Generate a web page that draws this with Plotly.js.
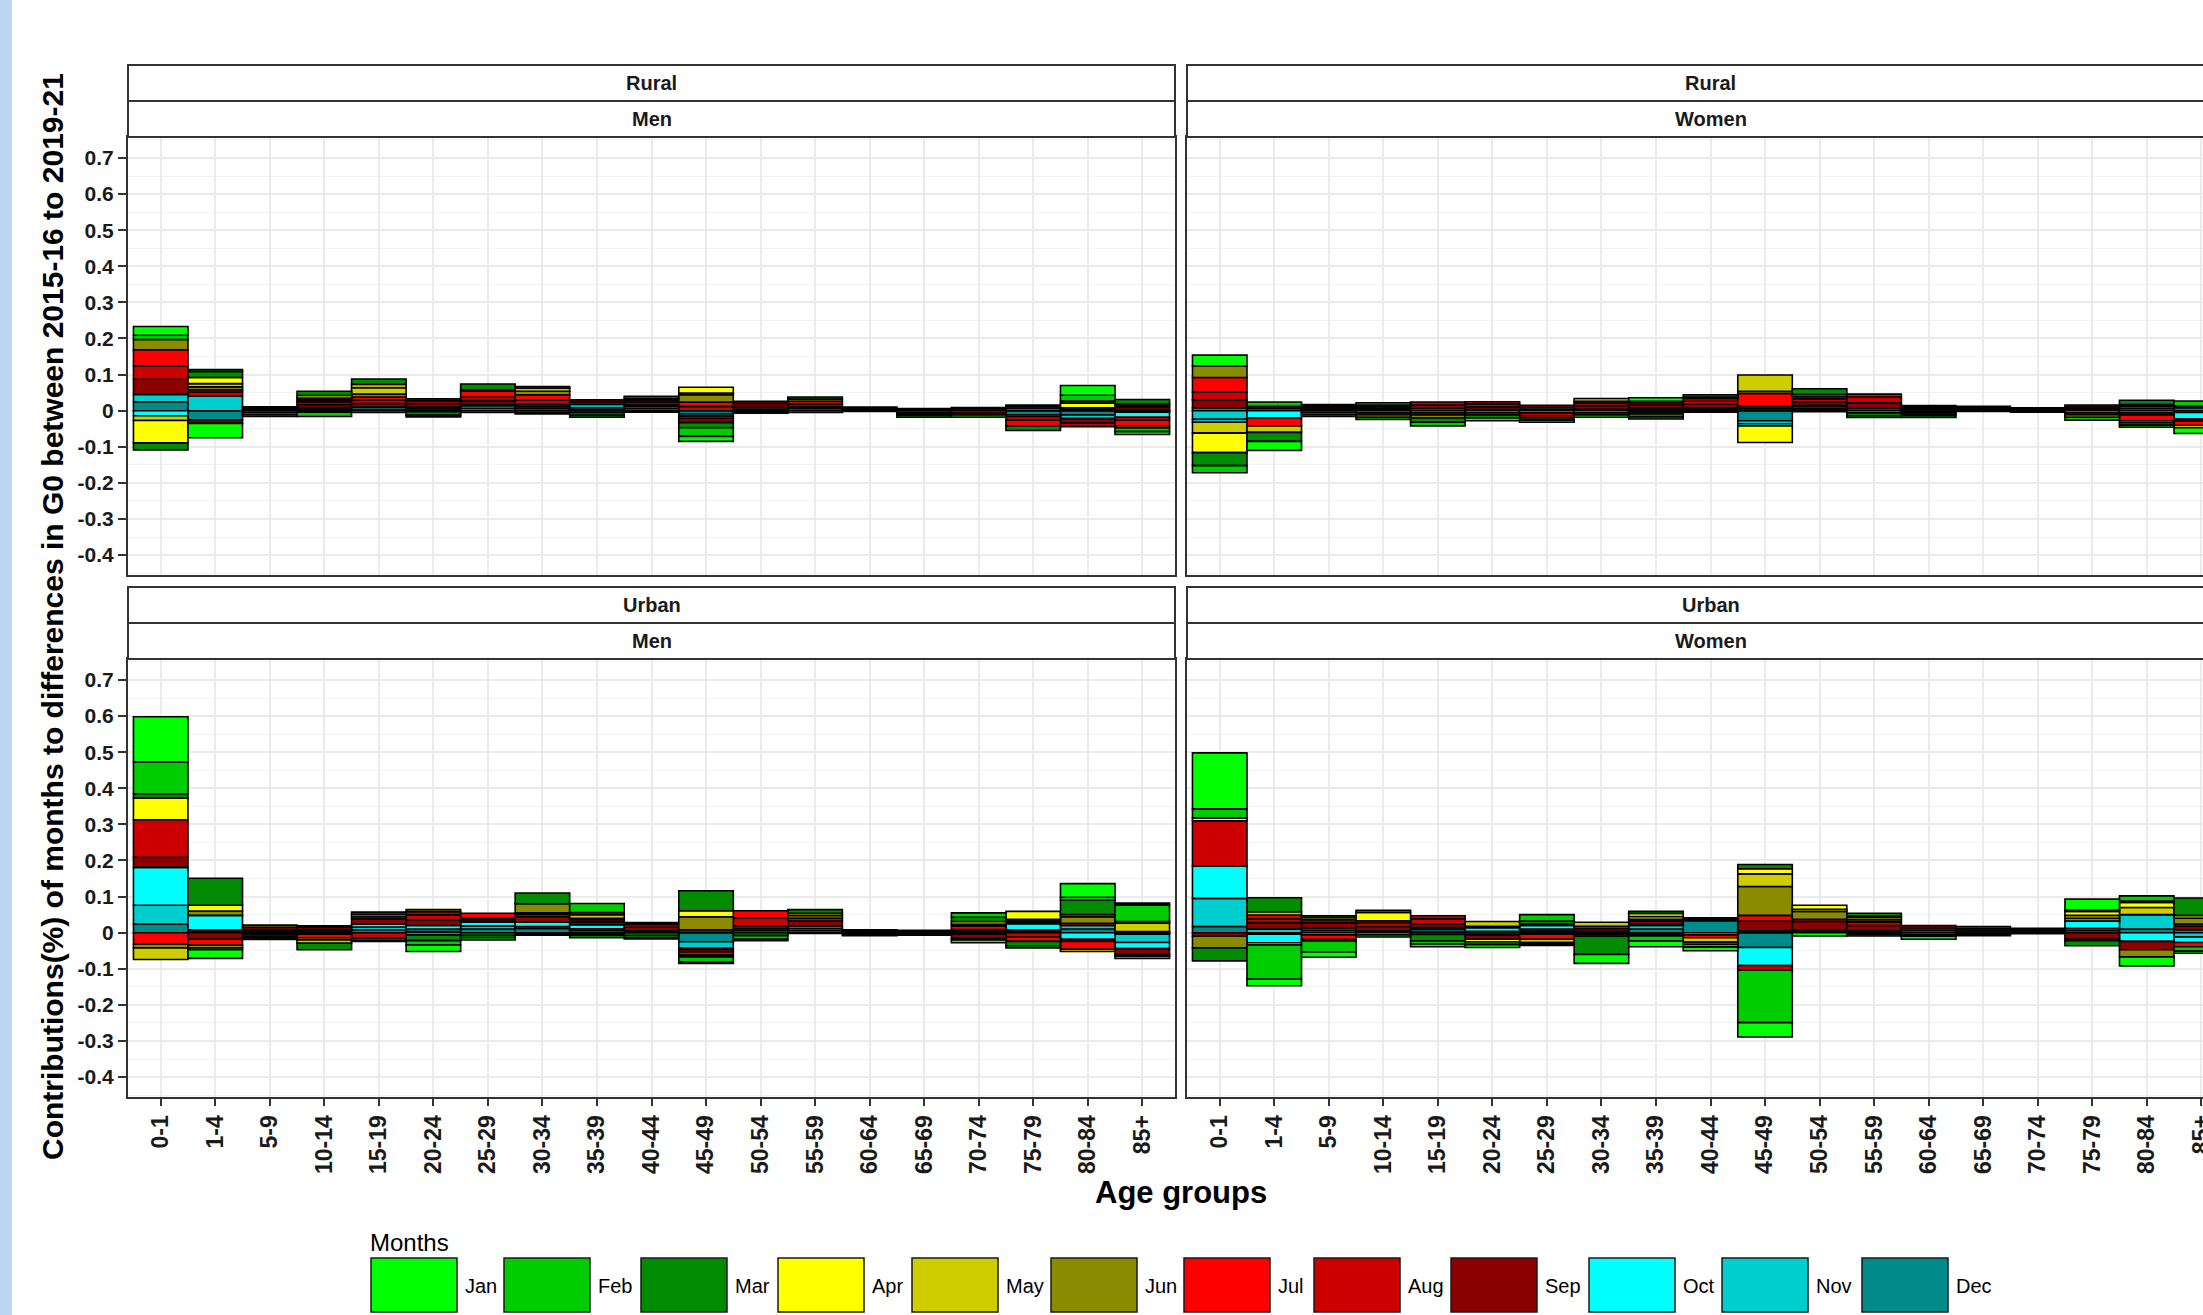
<!DOCTYPE html>
<html><head><meta charset="utf-8">
<script src="https://cdn.plot.ly/plotly-3.0.1.min.js"></script>
<style>html,body{margin:0;padding:0;overflow:hidden;background:#fff;} #chart{width:2240px;height:1315px;}</style>
</head><body><div id="chart"></div>
<script>
// ---------- DATA ----------
const ageGroups = ['0-1','1-4','5-9','10-14','15-19','20-24','25-29','30-34','35-39','40-44','45-49','50-54','55-59','60-64','65-69','70-74','75-79','80-84','85+'];
const months = ['Jan','Feb','Mar','Apr','May','Jun','Jul','Aug','Sep','Oct','Nov','Dec'];
const monthColors = ['#00FF00','#00CD00','#008B00','#FFFF00','#CDCD00','#8B8B00','#FF0000','#CD0000','#8B0000','#00FFFF','#00CDCD','#008B8B'];
const yTickVals = [-0.4,-0.3,-0.2,-0.1,0,0.1,0.2,0.3,0.4,0.5,0.6,0.7];
const yTickText = ['-0.4','-0.3','-0.2','-0.1','0','0.1','0.2','0.3','0.4','0.5','0.6','0.7'];

// rows = age groups, columns = Jan..Dec
const ruralMen = [
  [ .024, .012,-.020,-.062,-.013, .028, .045, .037, .042,-.014, .020, .025],
  [-.040, .005, .017, .017, .009, .008, .006, .012,-.010, 0   , .040,-.025],
  [-.005, 0   ,-.006, 0   , 0   , 0   , .003, 0   , .004,-.005, 0   , .004],
  [ 0   ,-.012, .012, .007, .005, 0   , .005, .008, .008,-.004, .004, .005],
  [ 0   , 0   , .015, .009, .018, .008, .008, .010, .010,-.005, .006, .004],
  [ 0   ,-.004,-.010, 0   , 0   , 0   , .005, .008, .010,-.003, .005, .005],
  [-.005, 0   , .016, 0   , 0   , .004, .016, .010, .010, .004, .007, .007],
  [ 0   ,-.004, .005, 0   , .008, .010, .015, .012, .006,-.005, .005, .006],
  [-.005, 0   ,-.008, 0   , 0   ,-.005, 0   , .005, .008, .008, .005, .004],
  [-.004, 0   , .006, 0   , 0   , 0   , .004, .006, .008, .004, .006, .006],
  [-.014,-.024,-.014, .016, .005, .020, .012, .012,-.012,-.006,-.006,-.009],
  [-.003, 0   ,-.004, 0   , 0   , 0   , .005, .006, .006, 0   , .005, .004],
  [ 0   , 0   , .006, 0   , 0   , .006, 0   , .008, .008,-.005, .004, .006],
  [-.002, 0   , 0   , 0   , 0   , 0   , .003, .003, 0   , 0   , 0   , .004],
  [-.005, 0   ,-.004, 0   , 0   ,-.004, 0   , 0   , .003,-.005, 0   , .003],
  [ 0   ,-.006, 0   ,-.005, 0   , 0   ,-.007, .004, 0   , 0   , .005, 0   ],
  [ 0   , 0   ,-.013, 0   , 0   , .004,-.016,-.010, .006,-.005, .006,-.011],
  [ .027, .016, .006, .013, .004, .004, 0   ,-.010,-.012, 0   ,-.010,-.012],
  [-.008,-.010, .012,-.006, .004, .004,-.016,-.008, .008,-.014,-.004, .003]
];
const ruralWomen = [
  [ .030,-.020,-.036,-.054,-.030, .032, .040, .022, .022,-.008,-.024, .008],
  [-.025, .012,-.025, 0   ,-.018, 0   ,-.022, 0   , .006,-.020, 0   , .006],
  [-.005, 0   ,-.006, 0   , 0   , .004, 0   , .004, .005,-.005, 0   , .004],
  [-.006, .006, 0   ,-.006, 0   , 0   ,-.006, .005, .006, 0   ,-.006, .005],
  [ 0   ,-.010,-.012, 0   , 0   ,-.008,-.006, .008, .010, 0   ,-.006, .006],
  [-.008, 0   ,-.008, 0   , 0   ,-.006, .006, .008, .008,-.006, 0   , .003],
  [-.006,-.006, 0   , 0   , 0   , 0   ,-.006,-.008, .006,-.006, .005, .004],
  [-.006, 0   ,-.006, 0   , .008, 0   , .004, .008, .010,-.006, 0   , .004],
  [ .010,-.006,-.008, 0   , 0   , .004,-.005, .006, .008,-.004, .004, .004],
  [-.004, 0   , .006, 0   , 0   , .004, .008, .008, .010, 0   , .004, .004],
  [ 0   , 0   , 0   ,-.046, .045, .006, .036, .006, .006,-.006,-.008,-.028],
  [-.003, 0   , .016, 0   , .006, .006, 0   , .008, .010, .004, .006, .005],
  [-.005, 0   ,-.008, 0   , 0   , 0   , .008, .016, .016,-.006, 0   , .006],
  [ 0   , .004,-.006, 0   , 0   ,-.004, 0   , .005, .005,-.005, 0   ,-.004],
  [-.002, 0   , 0   , 0   , 0   , 0   , .004, 0   , .004, 0   , 0   , .004],
  [ 0   , 0   ,-.004, 0   , 0   , 0   , 0   , .004, 0   , 0   , .004, 0   ],
  [ 0   ,-.008, 0   ,-.006, 0   , 0   ,-.006, 0   , .006,-.006, .005, .005],
  [ 0   ,-.006, .012, 0   ,-.006,-.006,-.016,-.006, .005,-.006, .006, .006],
  [-.016, .014, 0   ,-.006, .005, 0   ,-.012,-.006, 0   ,-.018,-.005, .008]
];
const urbanMen = [
  [ .125, .088, .012, .060,-.032,-.010,-.032, .104, .028, .105, .052, .024],
  [-.024,-.005, .075, .016,-.007, .012,-.017, 0   ,-.018, .040, .004, .004],
  [-.004, 0   ,-.005, 0   , 0   , .006,-.006, 0   , .006,-.004, .004, .005],
  [ 0   , 0   ,-.018, 0   ,-.009,-.006,-.010, .004, .006,-.004, .004, .005],
  [-.003, 0   , .006, 0   ,-.006, .006, .006,-.015, .015, .008, .008, .008],
  [-.018,-.012,-.016,-.006, 0   , .006, .008, .015, .015, .010, .006, .004],
  [-.006,-.006,-.008, 0   , 0   , 0   , .014, .004, .006, .011, .009, .010],
  [-.003, 0   , .030,-.004, 0   , .025, .004, .006, .016, .012, .005, .012],
  [-.006, .025, .006,-.004, .010, .004,-.004, .006, .008, .011, .005, .006],
  [-.003,-.006,-.008, 0   , 0   , 0   , .005, .008, .010, 0   , 0   , .005],
  [-.004,-.014, .055, .017,-.005, .036,-.009,-.006, .008,-.004,-.018,-.025],
  [-.004,-.010,-.008, 0   , 0   , 0   , .020, .022, .008, 0   , .005, .006],
  [-.002, 0   , .010, 0   , .006, .008, 0   , .008, .014, .006, .006, .006],
  [-.004, 0   ,-.004, 0   , 0   , 0   , 0   , .004, .004, 0   , 0   , 0   ],
  [ 0   ,-.004, 0   , 0   , 0   ,-.003, .003, 0   , 0   , 0   , 0   , .004],
  [-.008, .012, .012,-.004, .008, .004, .010, .004,-.012,-.004, .005, 0   ],
  [ 0   ,-.006,-.012, .022, .004, .004,-.012,-.012, .004, .017, .004, .004],
  [ .038, .008, .040, .006,-.006, .018,-.022,-.006, .006,-.018, .010, .010],
  [ .005, .046, .005,-.006, .023, .003, 0   ,-.005,-.016,-.017,-.023,-.004]
];
const urbanWomen = [
  [ .155, .025,-.036, .008, 0   ,-.032, 0   , .125,-.010, .090, .078, .017],
  [-.018,-.095, .039,-.006, .009, 0   , .010, .011, .018,-.024, .010,-.004],
  [-.015,-.030, .005,-.004, 0   , .006,-.013, .008, .016,-.006, .006, .006],
  [-.006, 0   , .006, .023, 0   , 0   , .006, .010, .012,-.006, 0   , .005],
  [-.008,-.008,-.018, 0   , 0   ,-.005, .008, .015, .010, .004, .006, .004],
  [-.008, 0   ,-.008,-.007, .013, .004, 0   , 0   ,-.012, .010, .004,-.006],
  [-.004, .018, .008,-.004,-.009, .004,-.014, 0   ,-.004, .010, .005, .005],
  [-.025, 0   ,-.050, 0   , .011, .006, 0   ,-.006, .008,-.004, 0   , .004],
  [-.016,-.014, .006, .008, .008, .005,-.004,-.005, .008, .004, .010, .010],
  [-.010,-.008, .004,-.006,-.012, 0   ,-.008, 0   , .004,-.006, 0   , .033],
  [-.040,-.145, .012, .014, .035, .080, .016,-.013, .027,-.050, .005,-.041],
  [-.009, 0   , 0   , .011, .006, .022, .006, 0   , .023, 0   , .004, .004],
  [ 0   , 0   , .008, .004, .006, .006,-.005, .010, .015,-.004, 0   , .005],
  [-.008,-.004,-.006, 0   , 0   , 0   , 0   , .006, .008, 0   , 0   , .006],
  [-.004, 0   ,-.004, 0   , 0   , 0   , 0   , .006, .006, 0   , .005, 0   ],
  [ 0   ,-.003, 0   , 0   , 0   , 0   , .004, 0   , .004, 0   , 0   , .004],
  [ .030, .004,-.014, .011, .008, .008, 0   ,-.004,-.018, .020, .006, .006],
  [-.025, .014, .004, .014, .020,-.020, 0   , 0   ,-.023,-.024, .040, .010],
  [-.006,-.012, .048, 0   , .008, .016,-.012, .006, .010,-.015,-.012, .008]
];
const areaLabels = ['Rural','Rural','Urban','Urban'];
const sexLabels = ['Men','Women','Men','Women'];

// ---------- LAYOUT GEOMETRY (pixels) ----------
const W = 2240, H = 1315;
const FONT = 'Liberation Sans, Arial, Helvetica, sans-serif';
const colPx = [[128,1175],[1187,2234]];
const rowPx = [[137,575],[659,1097]];   // plot area top/bottom
const stripPx = [[65,101,137],[587,623,659]];
const px = v => v / W, py = v => 1 - v / H;

const panels = [
  {data: ruralMen,   col:0, row:0},
  {data: ruralWomen, col:1, row:0},
  {data: urbanMen,   col:0, row:1},
  {data: urbanWomen, col:1, row:1}
];

const traces = [];
panels.forEach((p, i) => {
  const xa = i === 0 ? 'x' : 'x' + (i + 1);
  const ya = i === 0 ? 'y' : 'y' + (i + 1);
  for (let m = months.length - 1; m >= 0; m--) {
    traces.push({
      type: 'bar', name: months[m], x: ageGroups,
      y: p.data.map(r => r[m] === 0 ? null : r[m]),
      xaxis: xa, yaxis: ya, showlegend: false,
      marker: {color: monthColors[m], line: {color: '#000000', width: 1.6}}
    });
  }
});

const layout = {
  width: W, height: H, margin: {l:0, r:0, t:0, b:0},
  paper_bgcolor: '#ffffff', plot_bgcolor: '#ffffff',
  barmode: 'relative', bargap: 0, showlegend: false,
  font: {family: FONT, color: '#000'},
  shapes: [], annotations: []
};

panels.forEach((p, i) => {
  const sfx = i === 0 ? '' : String(i + 1);
  const bottom = p.row === 1, left = p.col === 0;
  layout['xaxis' + sfx] = {
    domain: [px(colPx[p.col][0]), px(colPx[p.col][1])],
    anchor: 'y' + sfx, type: 'category',
    categoryorder: 'array', categoryarray: ageGroups,
    range: [-0.6, ageGroups.length - 0.4],
    showgrid: true, gridcolor: '#EBEBEB', gridwidth: 2,
    showline: true, mirror: true, linecolor: '#333333', linewidth: 2,
    zeroline: false, fixedrange: true,
    showticklabels: bottom, ticks: bottom ? 'outside' : '',
    ticklen: 7, tickwidth: 2, tickcolor: '#333333', tickangle: -90,
    tickfont: {family: FONT, size: 23, color: '#1a1a1a', weight: 'bold'}
  };
  layout['yaxis' + sfx] = {
    domain: [py(rowPx[p.row][1]), py(rowPx[p.row][0])],
    anchor: 'x' + sfx, range: [-0.455, 0.758],
    tickmode: 'array', tickvals: yTickVals, ticktext: yTickText,
    showgrid: true, gridcolor: '#EBEBEB', gridwidth: 2,
    minor: {tickmode: 'linear', tick0: 0, dtick: 0.05, showgrid: true, gridcolor: '#F3F3F3', gridwidth: 1, ticks: ''},
    showline: true, mirror: true, linecolor: '#333333', linewidth: 2,
    zeroline: false, fixedrange: true,
    showticklabels: left, ticks: left ? 'outside' : '',
    ticklen: 8, tickwidth: 2, tickcolor: '#333333',
    tickfont: {family: FONT, size: 21, color: '#1a1a1a', weight: 'bold'}
  };
  // strips
  const sp = stripPx[p.row];
  [[sp[0], sp[1], areaLabels[i]], [sp[1], sp[2], sexLabels[i]]].forEach(s => {
    layout.shapes.push({type:'rect', xref:'paper', yref:'paper',
      x0: px(colPx[p.col][0]), x1: px(colPx[p.col][1]), y0: py(s[1]), y1: py(s[0]),
      fillcolor:'#ffffff', line:{color:'#333333', width:2}});
    layout.annotations.push({xref:'paper', yref:'paper', showarrow:false,
      xanchor:'center', yanchor:'middle',
      x: px((colPx[p.col][0] + colPx[p.col][1]) / 2), y: py((s[0] + s[1]) / 2),
      text: s[2], font:{family: FONT, size: 20, color:'#1a1a1a', weight:'bold'}});
  });
});

// left decorative strip
layout.shapes.push({type:'rect', xref:'paper', yref:'paper', x0:0, x1:px(12), y0:0, y1:1,
  fillcolor:'#BDD7F2', line:{width:0}, layer:'below'});

// axis titles
layout.annotations.push({xref:'paper', yref:'paper', showarrow:false, xanchor:'center', yanchor:'middle',
  x:px(52), y:py(617), textangle:-90,
  text:'Contributions(%) of months to differences in G0 between 2015-16 to 2019-21',
  font:{family: FONT, size: 30, color:'#000', weight:'bold'}});
layout.annotations.push({xref:'paper', yref:'paper', showarrow:false, xanchor:'center', yanchor:'middle',
  x:px(1181), y:py(1192),
  text:'Age groups', font:{family: FONT, size: 31, color:'#000', weight:'bold'}});

// legend (drawn manually to match large keys)
const legendX = [371, 504, 641, 778, 912, 1051, 1184, 1314, 1451, 1589, 1722, 1862];
layout.annotations.push({xref:'paper', yref:'paper', showarrow:false, xanchor:'left', yanchor:'middle',
  x:px(368), y:py(1242), text:'Months', font:{family: FONT, size: 24, color:'#000'}});
months.forEach((m, i) => {
  layout.shapes.push({type:'rect', xref:'paper', yref:'paper',
    x0:px(legendX[i]), x1:px(legendX[i] + 86), y0:py(1312), y1:py(1258),
    fillcolor: monthColors[i], line:{color:'#1a1a1a', width:1.5}});
  layout.annotations.push({xref:'paper', yref:'paper', showarrow:false, xanchor:'left', yanchor:'middle',
    x:px(legendX[i] + 92), y:py(1286), text:m, font:{family: FONT, size: 20, color:'#000'}});
});

Plotly.newPlot('chart', traces, layout, {displayModeBar:false, staticPlot:true});
</script>
</body></html>
